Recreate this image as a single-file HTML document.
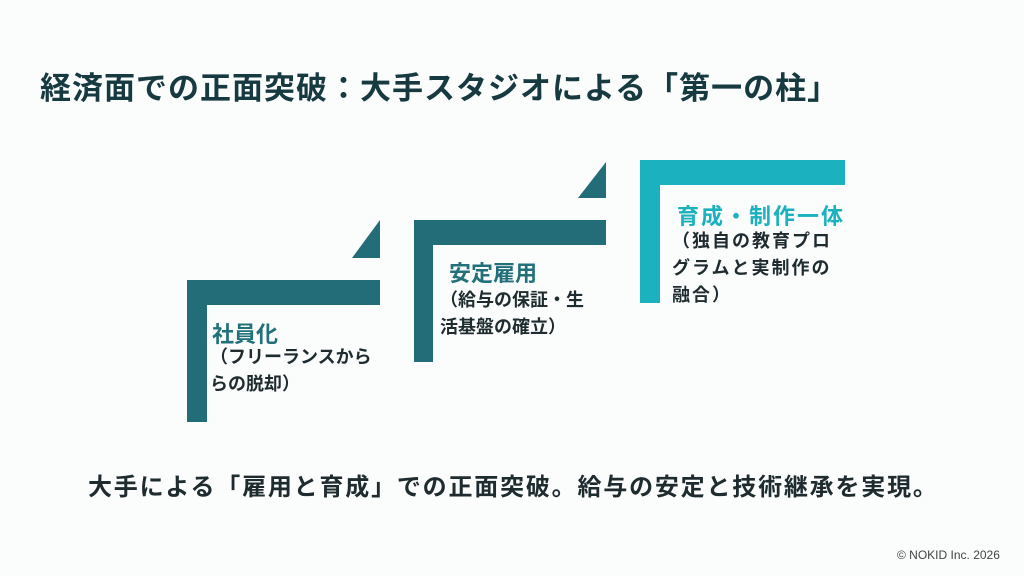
<!DOCTYPE html>
<html><head><meta charset="utf-8"><style>
body{margin:0;width:1024px;height:576px;background:#fbfcfc;position:relative;overflow:hidden;font-family:"Liberation Sans","Noto Sans CJK JP",sans-serif;}
.t{position:absolute;white-space:nowrap;font-weight:bold;}
.b{position:absolute;}
.d{background:#226d77;}
.l{background:#1bb1be;}
.sub{position:absolute;font-weight:bold;color:#1e2c30;font-size:18px;line-height:27px;white-space:nowrap;}
</style></head><body>
<div class="t" style="left:40px;top:63px;font-size:31px;letter-spacing:1px;color:#163a40;">経済面での正面突破：大手スタジオによる「第一の柱」</div>

<div class="b d" style="left:187px;top:280px;width:20px;height:142px;"></div>
<div class="b d" style="left:187px;top:280px;width:193px;height:25px;"></div>
<svg class="b" style="left:0;top:0" width="1024" height="576"><polygon points="380,220 380,258 352,258" fill="#226d77"/><polygon points="606,162 606,198 578,198" fill="#226d77"/></svg>
<div class="b d" style="left:414px;top:220px;width:19px;height:142px;"></div>
<div class="b d" style="left:414px;top:220px;width:192px;height:25px;"></div>
<div class="b l" style="left:640px;top:160px;width:20px;height:143px;"></div>
<div class="b l" style="left:640px;top:160px;width:205px;height:25px;"></div>

<div class="t" style="left:212px;top:317px;font-size:22px;color:#22707a;">社員化</div>
<div class="sub" style="left:210px;top:344px;">（フリーランスから<br>らの脱却）</div>

<div class="t" style="left:449px;top:256px;font-size:22px;color:#22707a;">安定雇用</div>
<div class="sub" style="left:440px;top:287px;">（給与の保証・生<br>活基盤の確立）</div>

<div class="t" style="left:677px;top:199px;font-size:22px;letter-spacing:2px;color:#1bb1be;">育成・制作一体</div>
<div class="sub" style="left:672px;top:228px;letter-spacing:2px;">（独自の教育プロ<br>グラムと実制作の<br>融合）</div>

<div class="t" style="left:88px;top:467px;font-size:24px;letter-spacing:1.8px;color:#1e2c30;">大手による「雇用と育成」での正面突破。給与の安定と技術継承を実現。</div>
<div class="t" style="left:897px;top:548px;font-size:12px;font-weight:normal;color:#444;">© NOKID Inc. 2026</div>
</body></html>
